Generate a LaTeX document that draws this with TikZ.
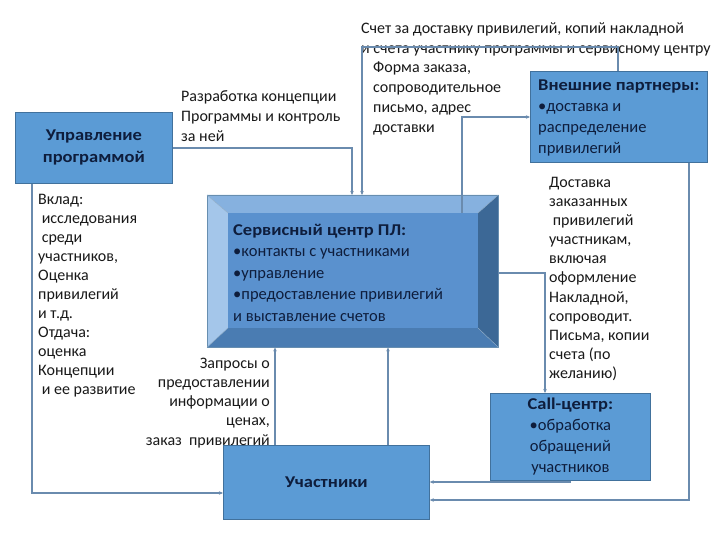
\documentclass[tikz,border=0pt]{standalone}
\usepackage{fontspec}
\setmainfont{Carlito}[BoldFeatures={FakeStretch=1.12}]
\usetikzlibrary{arrows.meta}
\definecolor{boxfill}{HTML}{5B9BD5}
\definecolor{boxline}{HTML}{41719C}
\definecolor{conncol}{HTML}{6A8BAE}
\definecolor{navy}{HTML}{0E1D3C}
\definecolor{bevtop}{HTML}{86B1DF}
\definecolor{bevleft}{HTML}{A4C6EA}
\definecolor{bevright}{HTML}{3C6896}
\definecolor{bevbot}{HTML}{4A7CB2}
\definecolor{face}{HTML}{5A91CE}
\begin{document}
\begin{tikzpicture}[x=1pt,y=-1pt,
  box/.style={draw=boxline, line width=0.8pt, fill=boxfill, inner sep=0pt, anchor=north west, text=navy, align=center},
  lbl/.style={inner sep=0pt, anchor=north west, align=left, font=\fontsize{16}{19.5}\selectfont, text=black!90},
  conn/.style={draw=conncol, line width=1.3pt},
  arr/.style={conn, -{Stealth[length=4pt,width=3.5pt]}}]
\useasboundingbox[fill=white] (0,0) rectangle (720,540);

% boxes
\node[box, minimum width=157pt, minimum height=71pt, font=\bfseries\fontsize{16.5}{22}\selectfont] (upr) at (15,112) {Управление\\программой};
\node[box, minimum width=177pt, minimum height=91pt] (ext) at (530,71) {};
\node[box, minimum width=160pt, minimum height=87pt, font=\fontsize{16.5}{21}\selectfont] (call) at (490,393) {\textbf{Call-центр:}\\•обработка\\обращений\\участников};
\node[box, minimum width=206pt, minimum height=74pt, font=\bfseries\fontsize{16.5}{21}\selectfont] (part) at (223,445) {Участники};

% service centre (bevelled)
\node[inner sep=0pt, minimum width=291pt, minimum height=152pt, anchor=north west] (svc) at (207,195) {};
\coordinate (iNW) at (228,213);
\coordinate (iNE) at (478,213);
\coordinate (iSE) at (478,328);
\coordinate (iSW) at (228,328);
\fill[bevtop] (svc.north west) -- (svc.north east) -- (iNE) -- (iNW) -- cycle;
\fill[bevleft] (svc.north west) -- (iNW) -- (iSW) -- (svc.south west) -- cycle;
\fill[bevright] (svc.north east) -- (svc.south east) -- (iSE) -- (iNE) -- cycle;
\fill[bevbot] (svc.south west) -- (iSW) -- (iSE) -- (svc.south east) -- cycle;
\fill[face] (iNW) rectangle (iSE);
\draw[boxline!80, line width=0.6pt] (svc.north west) rectangle (svc.south east);
\draw[boxline!60, line width=0.4pt] (svc.north west) -- (iNW) (svc.north east) -- (iNE) (svc.south east) -- (iSE) (svc.south west) -- (iSW);

% texts in boxes
\node[lbl, text=navy, font=\fontsize{16.5}{21}\selectfont] (extt) at (538,80) {\textbf{Внешние партнеры:}\\•доставка и\\распределение\\привилегий};
\node[lbl, text=navy, font=\fontsize{16.5}{21.5}\selectfont] (svct) at (233,224) {\textbf{Сервисный центр ПЛ:}\\•контакты с участниками\\•управление\\•предоставление привилегий\\и выставление счетов};

% labels
\node[lbl] (l1) at (361,22.5) {Счет за доставку привилегий, копий накладной\\и счета участнику программы и сервисному центру};
\node[lbl, font=\fontsize{16}{20}\selectfont] (l2) at (373,62) {Форма заказа,\\сопроводительное\\письмо, адрес\\доставки};
\node[lbl, font=\fontsize{16}{20}\selectfont] (l3) at (181,90) {Разработка концепции\\Программы и контроль\\за ней};
\node[lbl, font=\fontsize{16}{19}\selectfont] (l4) at (38,194.5) {Вклад:\\\ исследования\\\ среди\\участников,\\Оценка\\привилегий\\и т.д.\\Отдача:\\оценка\\Концепции\\\ и ее развитие};
\node[lbl, anchor=north east, align=right, font=\fontsize{16}{19.3}\selectfont] (l5) at (270,357.5) {Запросы о\\предоставлении\\информации о\\ценах,\\заказ\ \ привилегий};
\node[lbl, font=\fontsize{16}{19.1}\selectfont] (l6) at (549,177) {Доставка\\заказанных\\\ привилегий\\участникам,\\включая\\оформление\\Накладной,\\сопроводит.\\Письма, копии\\счета (по\\желанию)};

% connectors
\coordinate (a1) at (32,493);
\draw[arr] (upr.south -| a1) -- (a1) -- (part.west |- a1);
\coordinate (b1) at (352,148);
\draw[arr] (upr.east |- b1) -- (b1) -- (svc.north -| b1);
\coordinate (c1) at (362,47);
\coordinate (c2) at (618,47);
\draw[arr] (ext.north -| c2) -- (c2) -- (c1) -- (svc.north -| c1);
\coordinate (d1) at (462,117);
\draw[arr] (iNE -| d1) -- (d1) -- (ext.west |- d1);
\coordinate (e1) at (689,500);
\draw[arr] (ext.south -| e1) -- (e1) -- (part.east |- e1);
\coordinate (f1) at (545,273);
\draw[arr] (svc.east |- f1) -- (f1) -- (call.north -| f1);
\coordinate (g1) at (570,482);
\draw[arr] (call.south -| g1) -- (g1) -- (part.east |- g1);
\coordinate (h1) at (275,400);
\draw[arr] (part.north -| h1) -- (svc.south -| h1);
\coordinate (i1) at (388,400);
\draw[arr] (part.north -| i1) -- (svc.south -| i1);
\end{tikzpicture}
\end{document}
